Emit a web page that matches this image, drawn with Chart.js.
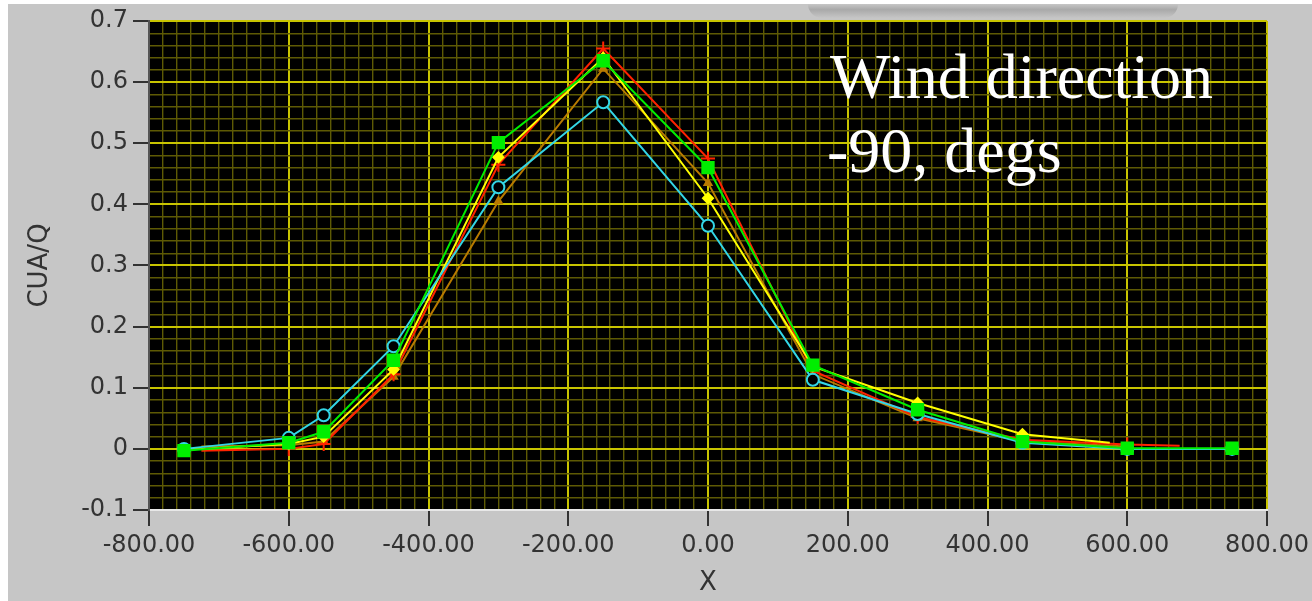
<!DOCTYPE html>
<html>
<head>
<meta charset="utf-8">
<script src="https://cdn.jsdelivr.net/npm/chart.js@4.4.1/dist/chart.umd.min.js"></script>
<style>
  html, body { margin: 0; padding: 0; background: #ffffff; }
  #wrap { position: absolute; left: 8px; top: 4px; width: 1304px; height: 597px; background: #c6c6c6; overflow: hidden; }
  #shade { position: absolute; left: 800px; top: 0; width: 370px; height: 14px;
           background: linear-gradient(#c6c6c6, #a9a9a9 40%, #c6c6c6); border-radius: 0 0 20px 20px; }
  canvas { position: absolute; left: 0; top: 0; }
</style>
</head>
<body>
<div id="wrap">
  <div id="shade"></div>
  <canvas id="chartCUA" width="1304" height="597"></canvas>
</div>
<script>
// valores (x en m, y = CUA/Q)
const rojoX = [-725, -600, -550, -450, -300, -150, 0, 150, 300, 450, 600, 675];
const rojoY = [-0.003, 0.0, 0.008, 0.122, 0.465, 0.655, 0.475, 0.128, 0.052, 0.015, 0.007, 0.005];

const amarilloX = [-725, -600, -550, -450, -300, -150, 0, 150, 300, 450, 575];
const amarilloY = [0.0, 0.008, 0.02, 0.13, 0.477, 0.64, 0.41, 0.135, 0.075, 0.024, 0.01];

const marronX = [-725, -600, -550, -450, -300, -150, 0, 150, 300, 450, 600];
const marronY = [0.004, 0.006, 0.012, 0.118, 0.405, 0.622, 0.435, 0.122, 0.05, 0.012, 0.004];

const cianX = [-750, -600, -550, -450, -300, -150, 0, 150, 300, 450, 600, 750];
const cianY = [0.0, 0.018, 0.055, 0.168, 0.428, 0.567, 0.365, 0.113, 0.057, 0.01, 0.0, 0.0];

const verdeX = [-750, -600, -550, -450, -300, -150, 0, 150, 300, 450, 600, 750];
const verdeY = [-0.003, 0.01, 0.028, 0.145, 0.501, 0.635, 0.46, 0.137, 0.064, 0.012, 0.001, 0.001];

const textoLineas = ['Wind direction', '-90, degs'];

const toPts = (xs, ys) => xs.map((x, i) => ({ x: x, y: ys[i] }));
// sin marcador en los extremos sueltos
const sinExtremos = n => ctx => (ctx.dataIndex === 0 || ctx.dataIndex === n - 1) ? 0 : undefined;

const esMayorX = v => Math.abs(v % 200) < 1e-6;
const esMayorY = v => Math.abs(Math.round(v * 10) - v * 10) < 1e-6;

// fondo negro del area de trazado
const fondoPlot = {
    id: 'fondoPlot',
    beforeDraw(chart) {
        const a = chart.chartArea, c = chart.ctx;
        c.save();
        c.fillStyle = '#000000';
        c.fillRect(a.left, a.top, a.right - a.left, a.bottom - a.top);
        c.restore();
    }
};

// texto blanco sobre el grafico
const rotulo = {
    id: 'rotulo',
    afterDatasetsDraw(chart) {
        const c = chart.ctx, a = chart.chartArea;
        c.save();
        c.fillStyle = '#ffffff';
        c.font = '64px "Liberation Serif", "Times New Roman", serif';
        c.textBaseline = 'alphabetic';
        c.fillText(textoLineas[0], a.left + 681, a.top + 77);
        c.fillText(textoLineas[1], a.left + 678, a.top + 151);
        c.restore();
    }
};

const linea = (label, xs, ys, color, estilo, radio, extra) => Object.assign({
    label: label,
    data: toPts(xs, ys),
    borderColor: color,
    backgroundColor: color,
    borderWidth: 2,
    pointStyle: estilo,
    pointRadius: radio,
    pointBorderColor: color,
    pointBackgroundColor: color,
    pointBorderWidth: 2,
    tension: 0
}, extra || {});

const fuenteEje = { family: '"DejaVu Sans", sans-serif', size: 24, lineHeight: 1.0 };
const fuenteTitulo = { family: '"DejaVu Sans", sans-serif', size: 26 };

const ctx = document.getElementById('chartCUA');
// el primer dataset se dibuja encima (verde arriba)
const CH_CUA = new Chart(ctx, {
    type: 'line',
    data: {
        datasets: [
            linea('verde', verdeX, verdeY, '#00ee00', 'rect', 8),
            linea('cian', cianX, cianY, '#33d6e6', 'circle', 6, { pointBackgroundColor: '#000000' }),
            linea('amarillo', amarilloX, amarilloY, '#ffff00', 'rectRot', c => sinExtremos(amarilloX.length)(c) ?? 5),
            linea('rojo', rojoX, rojoY, '#ff2200', 'cross', c => sinExtremos(rojoX.length)(c) ?? 7),
            linea('marron', marronX, marronY, '#b87a00', 'triangle', c => sinExtremos(marronX.length)(c) ?? 4)
        ]
    },
    options: {
        responsive: false,
        animation: false,
        events: [],
        layout: { padding: { top: 16, right: 45, left: 0, bottom: 0 } },
        plugins: { legend: { display: false }, tooltip: { enabled: false } },
        scales: {
            x: {
                type: 'linear',
                min: -800,
                max: 800,
                // alto fijo y sin reservar sitio para la etiqueta del extremo
                afterFit: s => { s.height = 91; s.paddingRight = 0; s.paddingLeft = 0; },
                afterBuildTicks: s => {
                    const t = [];
                    for (let v = -800; v <= 800; v += 20) t.push({ value: v });
                    s.ticks = t;
                },
                ticks: {
                    autoSkip: false,
                    maxRotation: 0,
                    padding: 8,
                    color: '#333333',
                    font: fuenteEje,
                    callback: v => esMayorX(v) ? v.toFixed(2) : ''
                },
                grid: {
                    color: c => esMayorX(c.tick.value) ? '#c8c400' : '#5e5a04',
                    lineWidth: c => esMayorX(c.tick.value) ? 2 : 1.4,
                    tickColor: c => esMayorX(c.tick.value) ? '#333333' : 'rgba(0,0,0,0)',
                    tickLength: 16,
                    tickWidth: 2
                },
                border: { color: '#e8e8e8', width: 2 },
                title: {
                    display: true,
                    text: 'X',
                    color: '#333333',
                    font: fuenteTitulo,
                    padding: { top: 0, bottom: 2 }
                }
            },
            y: {
                min: -0.1,
                max: 0.7,
                afterFit: s => { s.width = 141; },
                afterBuildTicks: s => {
                    const t = [];
                    for (let i = -5; i <= 35; i++) t.push({ value: i * 0.02 });
                    s.ticks = t;
                },
                ticks: {
                    autoSkip: false,
                    padding: 5,
                    color: '#333333',
                    font: fuenteEje,
                    callback: v => esMayorY(v) ? String(Number(v.toFixed(1))) : ''
                },
                grid: {
                    color: c => esMayorY(c.tick.value) ? '#c8c400' : '#5e5a04',
                    lineWidth: c => esMayorY(c.tick.value) ? 2 : 1.4,
                    tickColor: c => esMayorY(c.tick.value) ? '#333333' : 'rgba(0,0,0,0)',
                    tickLength: 16,
                    tickWidth: 2
                },
                border: { color: '#555555', width: 2 },
                title: {
                    display: true,
                    text: 'CUA/Q',
                    color: '#333333',
                    font: fuenteTitulo,
                    padding: { top: 17, bottom: 0 }
                }
            }
        }
    },
    plugins: [fondoPlot, rotulo]
});
</script>
</body>
</html>
